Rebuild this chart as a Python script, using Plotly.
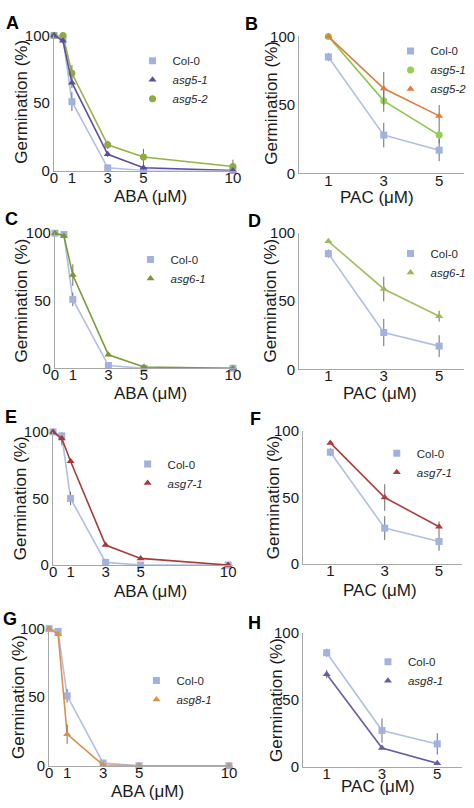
import plotly.graph_objects as go

W, H = 474, 808

# ---------------- data ----------------
aba_x = [0, 0.5, 1, 3, 5, 10]
pac_x = [1, 3, 5]
aba_ticks = [0, 1, 3, 5, 10]
pac_ticks = [1, 3, 5]
y_ticks = [0, 50, 100]

# Panel A (ABA)
A_col0 = [100, 98, 51, 2, 0, 0]
A_col0_err = [0, 1, 7, 1, 0, 0]
A_asg51 = [100, 96, 65, 12, 2, 0]
A_asg51_err = [0, 2, 4, 2, 1, 0]
A_asg52 = [100, 100, 72, 19, 10, 3]
A_asg52_err = [0, 0, 6, 3, 6, 5]

# Panel B (PAC)
B_col0 = [85, 28, 17]
B_col0_err = [3, 9, 8]
B_asg51 = [100, 53, 28]
B_asg51_err = [1, 8, 6]
B_asg52 = [100, 62, 42]
B_asg52_err = [1, 12, 8]

# Panel C (ABA)
C_col0 = [100, 99, 51, 2, 0, 0]
C_col0_err = [0, 1, 5, 1, 0, 0]
C_asg61 = [100, 98, 69, 10, 1, 0]
C_asg61_err = [0, 1, 8, 1, 1, 0]

# Panel D (PAC)
D_col0 = [85, 27, 17]
D_col0_err = [3, 10, 8]
D_asg61 = [94, 59, 39]
D_asg61_err = [1, 9, 4]

# Panel E (ABA)
E_col0 = [100, 97, 50, 2, 0, 0]
E_col0_err = [0, 7, 5, 1, 0, 0]
E_asg71 = [100, 95, 78, 15, 5, 0]
E_asg71_err = [0, 2, 1, 1, 1, 0]

# Panel F (PAC)
F_col0 = [84, 27, 17]
F_col0_err = [3, 9, 7]
F_asg71 = [91, 50, 28]
F_asg71_err = [1, 10, 4]

# Panel G (ABA)
G_col0 = [100, 98, 51, 2, 0, 0]
G_col0_err = [0, 1, 5, 1, 0, 0]
G_asg81 = [100, 96, 23, 0.5, 0, 0]
G_asg81_err = [0, 1, 7, 0, 0, 0]

# Panel H (PAC)
H_col0 = [85, 27, 17]
H_col0_err = [3, 9, 8]
H_asg81 = [69, 14, 2.5]
H_asg81_err = [3, 1, 1]

panel_letters = ["A", "B", "C", "D", "E", "F", "G", "H"]

# ---------------- styles ----------------
COL0_M = "#A2B2DE"
COL0_L = "#B1BFE5"
ERR = "#6E6E6E"
AXIS = "#A8A8A8"
TXT = "#1A1A1A"
FONT = "Liberation Sans, Arial, sans-serif"

fig = go.Figure()


def add_series(idx, x, y, err, name, mcolor, lcolor, symbol, rank, msize=7):
    ax = "" if idx == 1 else str(idx)
    leg = "legend" if idx == 1 else f"legend{idx}"
    fig.add_trace(go.Scatter(
        x=x, y=y, mode="lines", line=dict(color=lcolor, width=1.6),
        xaxis="x" + ax, yaxis="y" + ax, showlegend=False, hoverinfo="skip",
        cliponaxis=False))
    fig.add_trace(go.Scatter(
        x=x, y=y, mode="markers", name=name, legendrank=rank,
        marker=dict(color=mcolor, symbol=symbol, size=msize, line=dict(width=0)),
        error_y=dict(type="data", array=err, visible=True, color=ERR,
                     thickness=1, width=0),
        xaxis="x" + ax, yaxis="y" + ax, legend=leg, cliponaxis=False))


# A
add_series(1, aba_x, A_col0, A_col0_err, "Col-0", COL0_M, COL0_L, "square", 1)
add_series(1, aba_x, A_asg52, A_asg52_err, "<i>asg5-2</i>", "#8EAA40", "#9BB043", "circle", 3)
add_series(1, aba_x, A_asg51, A_asg51_err, "<i>asg5-1</i>", "#5C4D9C", "#5E4F9F", "triangle-up", 2)
# B
add_series(2, pac_x, B_col0, B_col0_err, "Col-0", COL0_M, COL0_L, "square", 1)
add_series(2, pac_x, B_asg51, B_asg51_err, "<i>asg5-1</i>", "#92D050", "#8CC84B", "circle", 2)
add_series(2, pac_x, B_asg52, B_asg52_err, "<i>asg5-2</i>", "#E07B39", "#DD7C3C", "triangle-up", 3)
# C
add_series(3, aba_x, C_col0, C_col0_err, "Col-0", COL0_M, COL0_L, "square", 1)
add_series(3, aba_x, C_asg61, C_asg61_err, "<i>asg6-1</i>", "#779634", "#7B9A38", "triangle-up", 2)
# D
add_series(4, pac_x, D_col0, D_col0_err, "Col-0", COL0_M, COL0_L, "square", 1)
add_series(4, pac_x, D_asg61, D_asg61_err, "<i>asg6-1</i>", "#9BB85A", "#A2BD5E", "triangle-up", 2)
# E
add_series(5, aba_x, E_col0, E_col0_err, "Col-0", COL0_M, COL0_L, "square", 1)
add_series(5, aba_x, E_asg71, E_asg71_err, "<i>asg7-1</i>", "#A63A3A", "#A83C3C", "triangle-up", 2)
# F
add_series(6, pac_x, F_col0, F_col0_err, "Col-0", COL0_M, COL0_L, "square", 1)
add_series(6, pac_x, F_asg71, F_asg71_err, "<i>asg7-1</i>", "#B13C3C", "#B13E3E", "triangle-up", 2)
# G
add_series(7, aba_x, G_col0, G_col0_err, "Col-0", COL0_M, COL0_L, "square", 1)
add_series(7, aba_x, G_asg81, G_asg81_err, "<i>asg8-1</i>", "#D9914A", "#D9914A", "triangle-up", 2)
# H
add_series(8, pac_x, H_col0, H_col0_err, "Col-0", COL0_M, COL0_L, "square", 1)
add_series(8, pac_x, H_asg81, H_asg81_err, "<i>asg8-1</i>", "#6B5BA6", "#6B5BA6", "triangle-up", 2)


def xd(l, r):
    return [l / W, r / W]


def yd(top, bottom):
    return [1 - bottom / H, 1 - top / H]


# panel geometry in pixels: (left, right, top, bottom, xrange)
geo = {
    1: (51, 237, 27, 165, [0, 10.2], aba_ticks, "ABA (μM)"),
    2: (301, 469, 28, 168, [-0.05, 5.9], pac_ticks, "PAC (μM)"),
    3: (52, 237, 229, 367, [0, 10.2], aba_ticks, "ABA (μM)"),
    4: (301, 469, 229, 368, [-0.05, 5.9], pac_ticks, "PAC (μM)"),
    5: (50, 233, 432, 568, [0, 10.25], aba_ticks, "ABA (μM)"),
    6: (305, 467, 431, 567, [0, 5.85], pac_ticks, "PAC (μM)"),
    7: (46, 233, 633, 773, [0, 10.2], aba_ticks, "ABA (μM)"),
    8: (305, 467, 637, 774, [0.15, 5.9], pac_ticks, "PAC (μM)"),
}

layout = dict(
    width=W, height=H, margin=dict(l=0, r=0, t=0, b=0),
    paper_bgcolor="white", plot_bgcolor="white",
    font=dict(family=FONT, color=TXT, size=15),
    annotations=[],
)

for i, (l, r, t, b, xr, xt, xtitle) in geo.items():
    ax = "" if i == 1 else str(i)
    is_pac = xt is pac_ticks
    layout["xaxis" + ax] = dict(
        domain=xd(l, r), range=xr, anchor="y" + ax,
        tickmode="array", tickvals=xt, ticktext=[str(v) for v in xt],
        showline=True, linecolor=AXIS, linewidth=1.3, showgrid=False,
        zeroline=False, ticks="", ticklen=0, tickfont=dict(size=15, color=TXT),
        ticklabelstandoff=-7, fixedrange=True)
    layout["yaxis" + ax] = dict(
        domain=yd(t, b), range=[0, 100], anchor="x" + ax,
        tickmode="array", tickvals=y_ticks,
        showline=True, linecolor=AXIS, linewidth=1.3, showgrid=False,
        zeroline=False, ticks="", ticklen=0, tickfont=dict(size=15, color=TXT),
        ticklabelstandoff=0, fixedrange=True)

# legends: (marker x px, first entry y px)
leg_pos = {1: (151, 48), 2: (414, 38), 3: (149, 251), 4: (414, 245),
           5: (146, 460), 6: (400, 449), 7: (155, 681), 8: (391, 662)}
for i, (mx, my) in leg_pos.items():
    key = "legend" if i == 1 else f"legend{i}"
    layout[key] = dict(
        x=(mx - 20) / W, y=1 - (my - 10) / H, xanchor="left", yanchor="top",
        bgcolor="rgba(0,0,0,0)", borderwidth=0,
        font=dict(size=11.5, color="#2A2A2A"), itemwidth=30,
        tracegroupgap=0, traceorder="normal")

# panel letters
letter_pos = [(9, 14), (252, 15), (8, 215), (255, 217), (7, 417), (256, 419), (6, 623), (255, 627)]
for letter, (lx, ly) in zip(panel_letters, letter_pos):
    layout["annotations"].append(dict(
        text=f"<b>{letter}</b>", x=lx / W, y=1 - ly / H, xref="paper", yref="paper",
        showarrow=False, xanchor="center", yanchor="middle",
        font=dict(size=18, color="#000", family=FONT)))

# axis titles as annotations
ytitle_pos = {1: (17, 95), 2: (273, 96), 3: (18, 298), 4: (272, 298),
              5: (17, 500), 6: (275, 499), 7: (14, 703), 8: (277, 706)}
xtitle_pos = {1: (149, 192), 2: (380, 193), 3: (149, 393), 4: (383, 393),
              5: (149, 595), 6: (383, 594), 7: (146, 799), 8: (381, 794)}
for i in geo:
    xtitle = geo[i][6]
    yx, yy = ytitle_pos[i]
    layout["annotations"].append(dict(
        text="Germination (%)", x=yx / W, y=1 - yy / H, xref="paper", yref="paper",
        showarrow=False, textangle=-90, xanchor="center", yanchor="middle",
        font=dict(size=17, color=TXT, family=FONT)))
    tx, ty = xtitle_pos[i]
    layout["annotations"].append(dict(
        text=xtitle, x=tx / W, y=1 - ty / H, xref="paper", yref="paper",
        showarrow=False, xanchor="center", yanchor="middle",
        font=dict(size=17, color=TXT, family=FONT)))

fig.update_layout(**layout)
fig.write_html("out.html")
